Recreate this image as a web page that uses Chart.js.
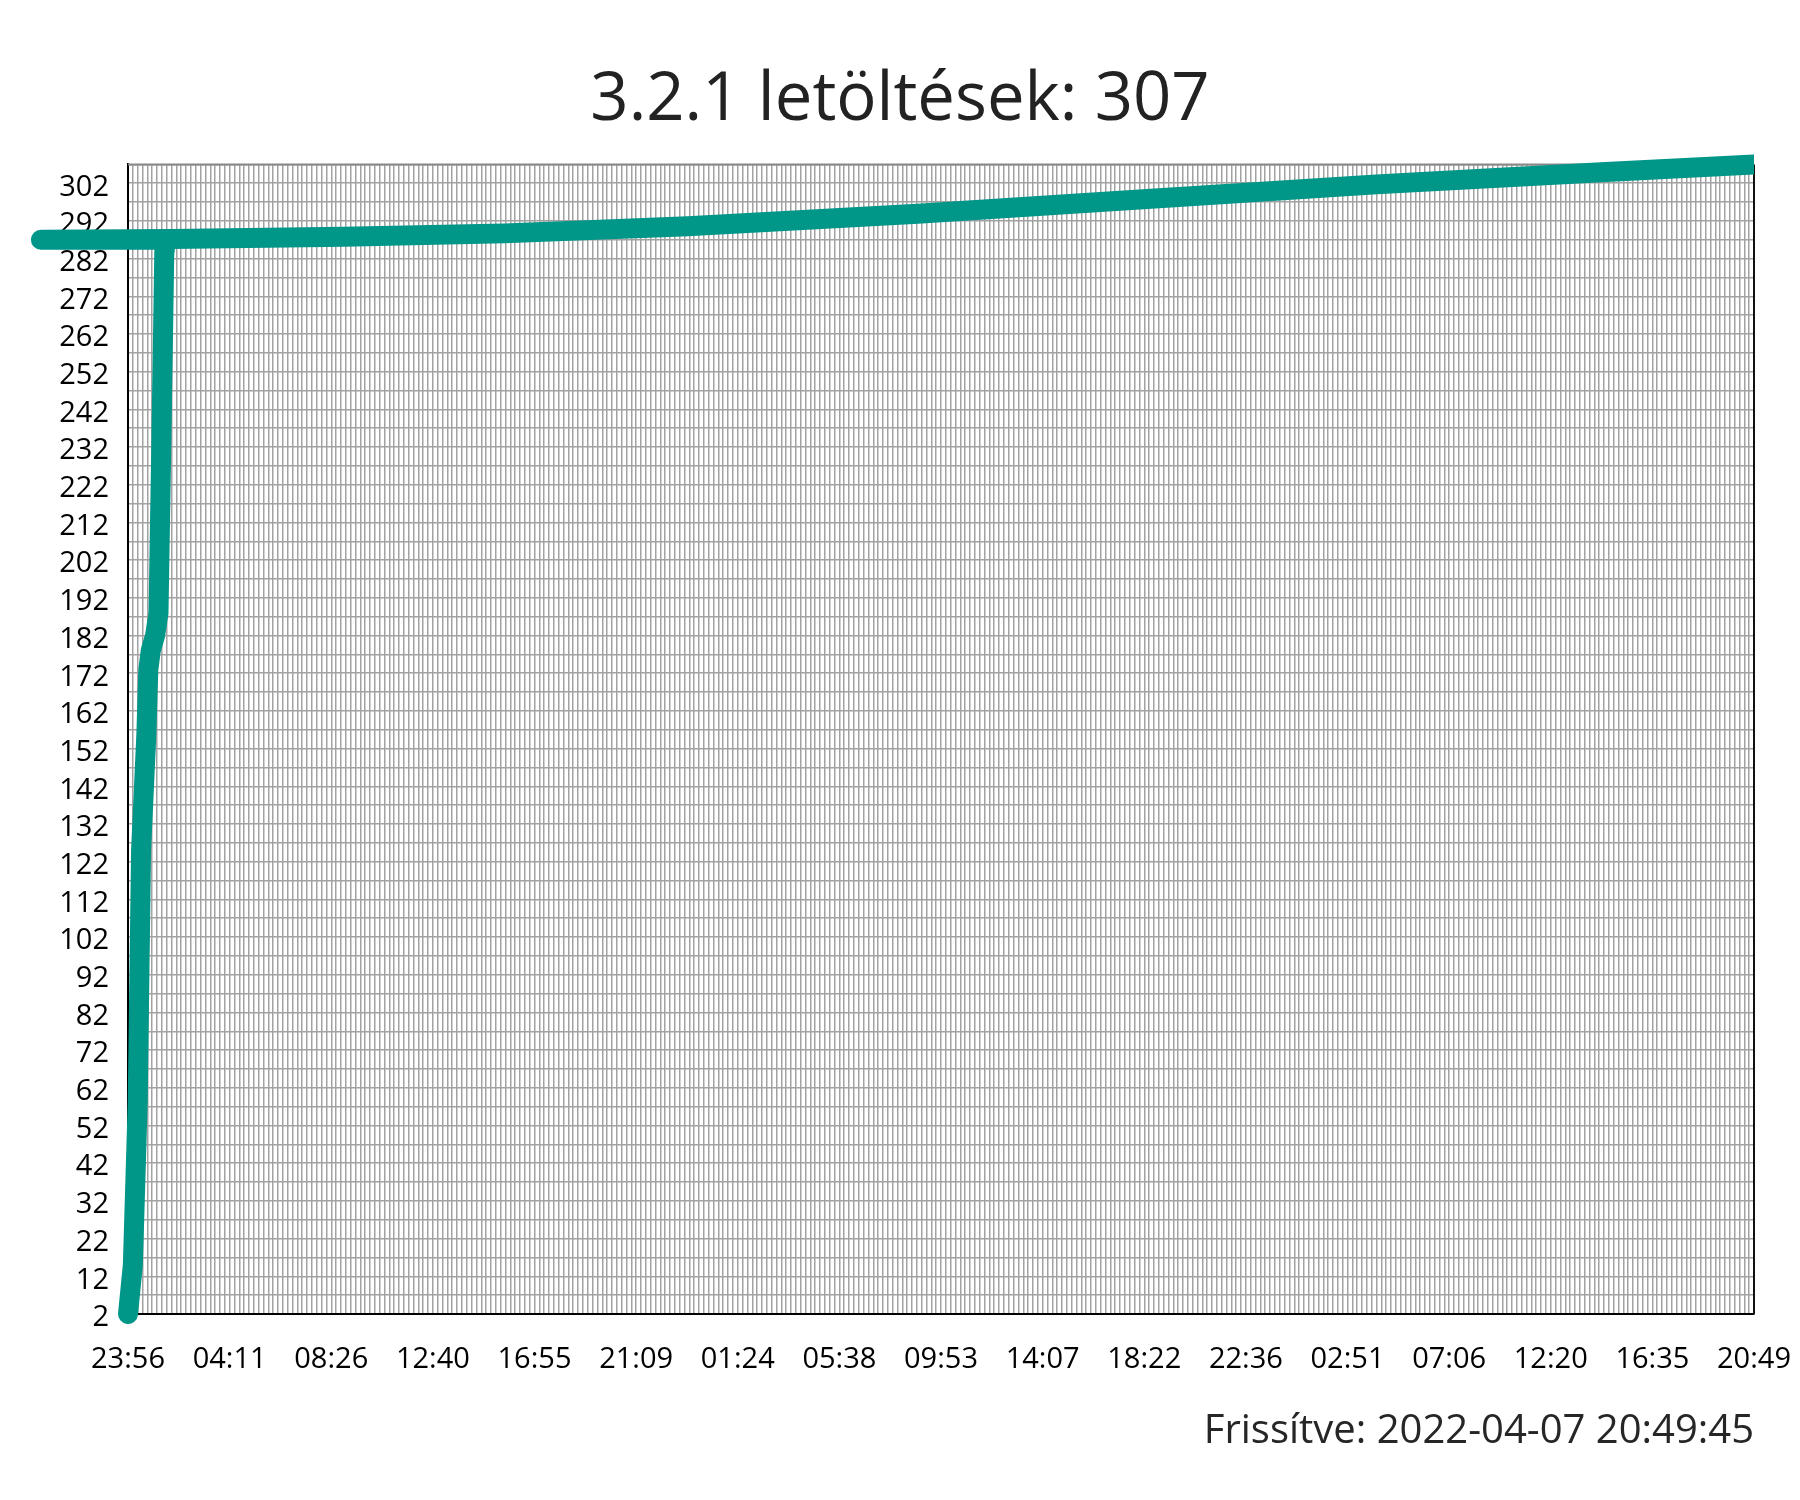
<!DOCTYPE html>
<html>
<head>
<meta charset="utf-8">
<script src="https://cdn.jsdelivr.net/npm/chart.js@4.4.1/dist/chart.umd.min.js"></script>
<style>
  html, body { margin: 0; padding: 0; background: #ffffff; }
  #wrap { width: 1800px; height: 1500px; }
</style>
</head>
<body>
<div id="wrap"><canvas id="c" width="1800" height="1500"></canvas></div>
<script>
// ---- data ----
const titleText = '3.2.1 letöltések: 307';
const footerText = 'Frissítve: 2022-04-07 20:49:45';
const xLabels = ['23:56','04:11','08:26','12:40','16:55','21:09','01:24','05:38','09:53','14:07','18:22','22:36','02:51','07:06','12:20','16:35','20:49'];
const stepsPerLabel = 21;          // grid steps between two time labels
const xMax = 336;                  // last grid step
const yMin = 2;
const yMax = 307;
const yGridStep = 5;
const yLabelStep = 10;
// series (x in grid steps, y = downloads), in drawing order
const seriesX = [0, 1.0, 1.7, 2.0, 2.7, 3.8, 4.2, 4.7, 5.6, 6.3, 6.9, 7.5, 7.6, -18, 9, 44.6, 77.8, 115.7, 163.2, 210.6, 258, 305.4, 336];
const seriesY = [2, 15, 45, 58, 125, 156, 173, 178, 182, 188, 234, 284, 287, 287, 287.2, 287.8, 288.7, 290.6, 293.9, 297.8, 301.7, 305, 307];

const FONT = '"Open Sans", "Noto Sans", sans-serif';
const points = seriesX.map((x, i) => ({ x: x, y: seriesY[i] }));

const xTickValues = [];
for (let v = 0; v <= xMax; v++) xTickValues.push(v);
const yTickValues = [];
for (let v = yMin; v <= yMax; v += yGridStep) yTickValues.push(v);

const framePlugin = {
  id: 'frame',
  beforeDatasetsDraw(chart) {
    const { ctx, chartArea: a } = chart;
    ctx.save();
    ctx.lineWidth = 2;
    ctx.strokeStyle = '#888888';
    ctx.beginPath(); ctx.moveTo(a.left, a.top); ctx.lineTo(a.right, a.top); ctx.stroke();
    ctx.strokeStyle = '#111111';
    ctx.beginPath(); ctx.moveTo(a.right, a.top); ctx.lineTo(a.right, a.bottom); ctx.stroke();
    ctx.restore();
  }
};

new Chart(document.getElementById('c'), {
  type: 'line',
  data: {
    datasets: [{
      data: points,
      borderColor: '#009688',
      backgroundColor: '#009688',
      borderWidth: 20,
      pointRadius: 0,
      pointHoverRadius: 0,
      tension: 0,
      borderCapStyle: 'round',
      borderJoinStyle: 'round',
      fill: false,
      clip: { left: false, top: false, right: 0, bottom: false }
    }]
  },
  options: {
    responsive: false,
    animation: false,
    events: [],
    layout: { padding: { left: 46, right: 46, top: 0, bottom: 0 } },
    plugins: {
      legend: { display: false },
      tooltip: { enabled: false },
      title: {
        display: true,
        text: titleText,
        color: '#222222',
        font: { family: FONT, size: 67, weight: 'normal' },
        padding: { top: 61, bottom: 23 }
      },
      subtitle: {
        display: true,
        text: footerText,
        position: 'bottom',
        align: 'end',
        color: '#262626',
        font: { family: FONT, size: 40, weight: 'normal' },
        padding: { top: 12, bottom: 44 }
      }
    },
    scales: {
      x: {
        type: 'linear',
        min: 0,
        max: xMax,
        afterBuildTicks: s => { s.ticks = xTickValues.map(v => ({ value: v })); },
        afterFit: s => { s.height = 82; s.paddingLeft = 0; s.paddingRight = 0; },
        grid: { color: '#a2a2a2', lineWidth: 1.5, drawTicks: false },
        border: { display: true, color: '#000000', width: 2 },
        ticks: {
          autoSkip: false,
          maxRotation: 0,
          minRotation: 0,
          padding: 28,
          color: '#000000',
          font: { family: FONT, size: 29 },
          callback: v => (v % stepsPerLabel === 0 ? xLabels[v / stepsPerLabel] : '')
        }
      },
      y: {
        type: 'linear',
        min: yMin,
        max: yMax,
        afterBuildTicks: s => { s.ticks = yTickValues.map(v => ({ value: v })); },
        afterFit: s => { s.width = 82; s.paddingTop = 0; s.paddingBottom = 0; },
        grid: { color: '#a2a2a2', lineWidth: 1.5, drawTicks: false },
        border: { display: true, color: '#000000', width: 2 },
        ticks: {
          autoSkip: false,
          padding: 19,
          labelOffset: 4,
          color: '#000000',
          font: { family: FONT, size: 29 },
          callback: v => ((v - yMin) % yLabelStep === 0 ? String(v) : '')
        }
      }
    }
  },
  plugins: [framePlugin]
});
</script>
</body>
</html>
